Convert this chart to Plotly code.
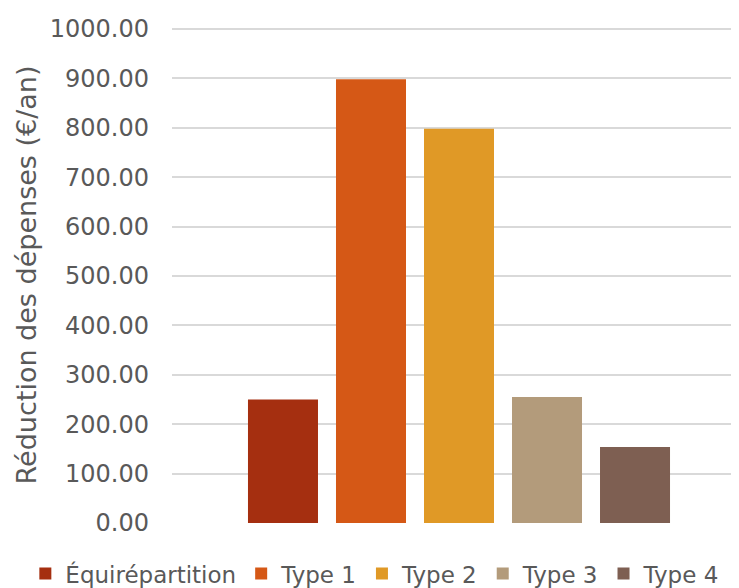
import plotly.graph_objects as go

series_names = ["Équirépartition", "Type 1", "Type 2", "Type 3", "Type 4"]
series_values = [250, 898, 798, 255, 154]
series_colors = ["#A52F10", "#D55816", "#E09926", "#B39B7B", "#7E5F52"]
category = [""]
y_title = "Réduction des dépenses (€/an)"

tick_font = dict(family="DejaVu Sans, Verdana, sans-serif", size=24, color="#595959")
title_font = dict(family="DejaVu Sans, Verdana, sans-serif", size=27, color="#595959")
legend_font = dict(family="DejaVu Sans, Verdana, sans-serif", size=23, color="#595959")

fig = go.Figure()
for name, val, col in zip(series_names, series_values, series_colors):
    fig.add_trace(go.Bar(x=category, y=[val], name=name, marker=dict(color=col, line=dict(width=0))))

fig.update_layout(
    width=739, height=588,
    margin=dict(l=164, r=1, t=19, b=73, autoexpand=False),
    paper_bgcolor="white", plot_bgcolor="white",
    barmode="group", bargap=0.2334, bargroupgap=0.2045,
    font=tick_font,
    showlegend=True,
    legend=dict(orientation="h", x=-0.2555, xanchor="left", xref="paper",
                y=-0.0587, yanchor="top", yref="paper",
                font=legend_font, itemwidth=30, tracegroupgap=0,
                bgcolor="rgba(0,0,0,0)"),
    xaxis=dict(type="category", range=[-0.5, 0.5], showticklabels=False,
               showgrid=False, zeroline=False, showline=False),
    yaxis=dict(range=[0, 1004], tickvals=list(range(0, 1001, 100)), tickformat=".2f", showgrid=True,
               gridcolor="#D9D9D9", gridwidth=1.5, zeroline=False, showline=False,
               ticks="", ticklabelstandoff=22, tickfont=tick_font,
               title=dict(text=y_title, font=title_font, standoff=5)),
)
fig.write_html("out.html")
